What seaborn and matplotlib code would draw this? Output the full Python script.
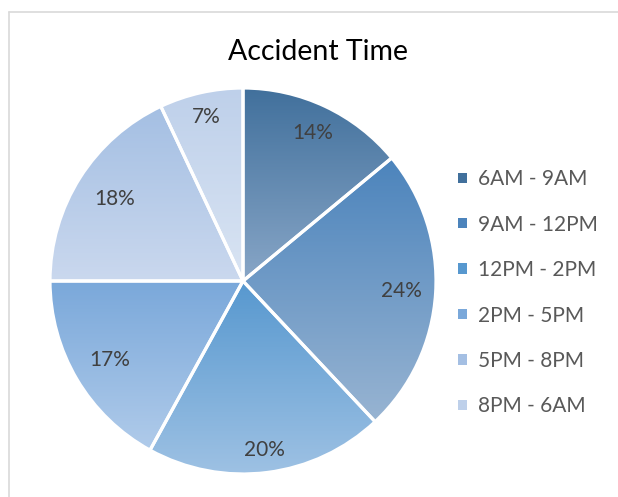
import numpy as np
import matplotlib
matplotlib.use("Agg")
import matplotlib.pyplot as plt
import seaborn as sns
from matplotlib.patches import Patch
from matplotlib.lines import Line2D
from matplotlib.colors import to_rgb

categories = ["6AM - 9AM", "9AM - 12PM", "12PM - 2PM", "2PM - 5PM", "5PM - 8PM", "8PM - 6AM"]
values = [14, 24, 20, 17, 18, 7]
top_colors = ["#41709C", "#4C84BC", "#5798CF", "#7AA8DA", "#A4BFE3", "#BED0EA"]
bottom_colors = ["#88A6C7", "#98B4D2", "#9FC2E4", "#B0CBEA", "#CAD8EE", "#D9E4F3"]
title = "Accident Time"
# radial placement of each percentage label (fraction of radius)
label_dist = [0.85, 0.82, 0.88, 0.80, 0.79, 0.87]

sns.set_theme(style="white")
plt.rcParams["font.family"] = ["Lato", "DejaVu Sans"]

W, H = 618, 497
fig = plt.figure(figsize=(W / 100, H / 100), dpi=100)
fig.patch.set_facecolor("white")

# chart-area border (top and left visible)
bx, by = 8.5 / W, 1 - 11.5 / H
fig.add_artist(Line2D([bx, 1.0], [by, by], transform=fig.transFigure, color="#D9D9D9", linewidth=1.2))
fig.add_artist(Line2D([bx, bx], [0.0, by], transform=fig.transFigure, color="#D9D9D9", linewidth=1.2))

cx, cy, r = 243, 281, 193
ax = fig.add_axes([(cx - r) / W, (H - cy - r) / H, 2 * r / W, 2 * r / H])

pd0 = 0.84
wedges, texts, autotexts = ax.pie(
    values, startangle=90, counterclock=False,
    colors=["none"] * len(values),
    autopct="%1.0f%%", pctdistance=pd0,
    wedgeprops=dict(edgecolor="white", linewidth=2.3),
    textprops=dict(color="#404040", fontsize=15),
)
for t, d in zip(autotexts, label_dist):
    x, y = t.get_position()
    t.set_position((x * d / pd0, y * d / pd0))

for w, c0, c1 in zip(wedges, top_colors, bottom_colors):
    v = w.get_path().vertices
    xmin, xmax = v[:, 0].min(), v[:, 0].max()
    ymin, ymax = v[:, 1].min(), v[:, 1].max()
    tt = np.linspace(0, 1, 256)[:, None, None]
    a = np.array(to_rgb(c0))[None, None, :]
    b = np.array(to_rgb(c1))[None, None, :]
    grad = a * (1 - tt) + b * tt  # row 0 = top
    im = ax.imshow(grad, extent=[xmin, xmax, ymin, ymax], origin="upper",
                   aspect="auto", zorder=0.5, interpolation="bilinear")
    im.set_clip_path(w)
    w.set_zorder(1)

ax.set_xlim(-1, 1)
ax.set_ylim(-1, 1)
ax.set_aspect("auto")
ax.axis("off")

fig.text(318 / W, 1 - 52 / H, title, ha="center", va="center", fontsize=20.5, color="black")

handles = [Patch(facecolor=c, edgecolor="none") for c in top_colors]
fig.legend(handles, categories, loc="upper left", bbox_to_anchor=(452 / W, 1 - 163 / H),
           frameon=False, fontsize=15, labelcolor="#595959",
           handlelength=0.4, handleheight=0.4, handletextpad=0.55, labelspacing=1.22,
           borderaxespad=0, borderpad=0.3)

fig.savefig("out.png", dpi=100, facecolor="white")
